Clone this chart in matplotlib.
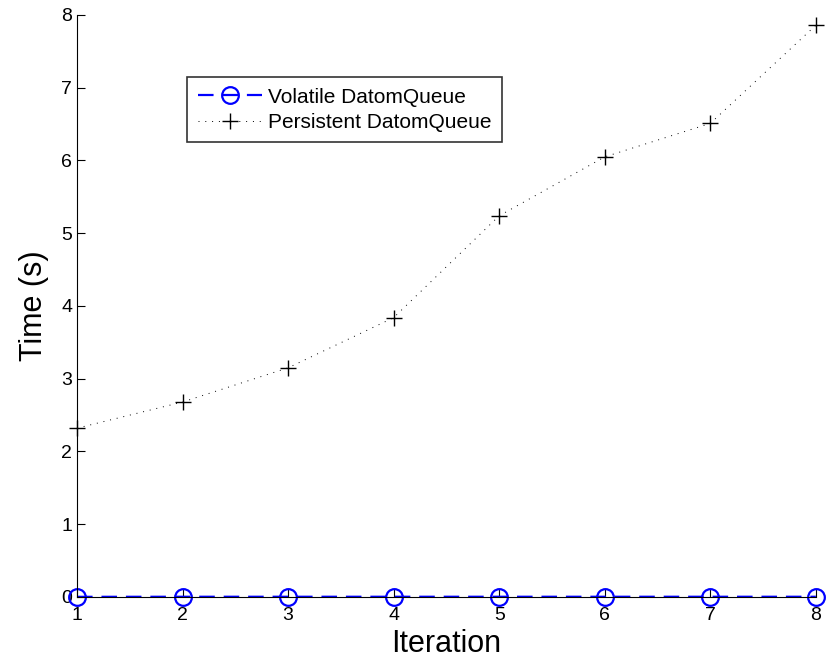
import matplotlib
matplotlib.use('Agg')
import matplotlib.pyplot as plt

plt.rcParams['font.family'] = ['Liberation Sans', 'DejaVu Sans']

iteration = [1, 2, 3, 4, 5, 6, 7, 8]
volatile_time = [0.002, 0.003, 0.003, 0.003, 0.003, 0.003, 0.003, 0.003]
persistent_time = [2.32, 2.68, 3.15, 3.84, 5.24, 6.05, 6.51, 7.86]

fig = plt.figure(figsize=(8.3, 6.6), dpi=100)
ax = fig.add_axes([0.0928, 0.0955, 0.8902, 0.8818])

ax.plot(iteration, volatile_time, color='blue', linestyle=(0, (7, 4)), linewidth=1.6,
        marker='o', markersize=12, markerfacecolor='none', markeredgewidth=1.6,
        label='Volatile DatomQueue', clip_on=False, zorder=2)
ax.plot(iteration, persistent_time, color='black', linestyle=(0, (1, 6)), linewidth=0.7,
        marker='+', markersize=12, markeredgewidth=1.0,
        label='Persistent DatomQueue', clip_on=False, zorder=2)

ax.set_xlim(1, 8)
ax.set_ylim(0, 8)
ax.set_xticks(range(1, 9))
ax.set_yticks(range(0, 9))
ax.tick_params(direction='in', length=6, width=0.8, labelsize=14)
ax.tick_params(axis='x', pad=7.5)
ax.tick_params(axis='y', pad=3.5)
for side in ['top', 'right']:
    ax.spines[side].set_visible(False)
for side in ['left', 'bottom']:
    ax.spines[side].set_linewidth(0.8)
    ax.spines[side].set_zorder(3)

ax.set_xlabel('Iteration', fontsize=22, labelpad=3.5)
ax.set_ylabel('Time (s)', fontsize=22, labelpad=9)

leg = ax.legend(loc='upper left', bbox_to_anchor=(0.149, 0.893), fontsize=15,
                frameon=True, fancybox=False, edgecolor='black', handlelength=3.1,
                handletextpad=0.3, borderpad=0.5, borderaxespad=0, labelspacing=0.3)
leg.get_frame().set_linewidth(1.2)

fig.savefig('out.png', dpi=100)
